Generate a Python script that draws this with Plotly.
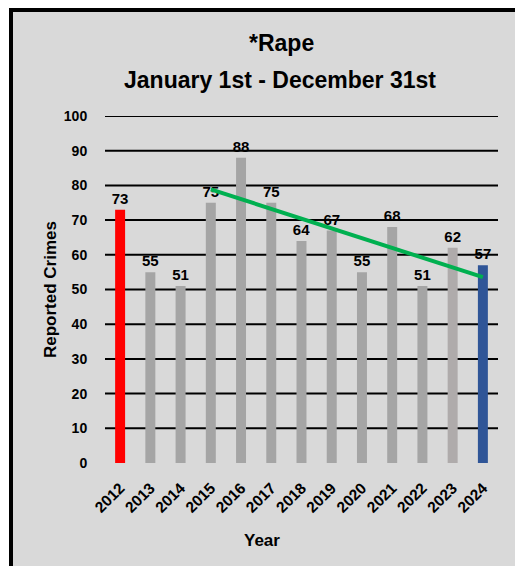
import numpy as np
import plotly.graph_objects as go

# ---- data ----
years = ["2012", "2013", "2014", "2015", "2016", "2017", "2018",
         "2019", "2020", "2021", "2022", "2023", "2024"]
crimes = [73, 55, 51, 75, 88, 75, 64, 67, 55, 68, 51, 62, 57]
bar_colors = ["#FF0000"] + ["#A5A5A5"] * 10 + ["#AFABAB", "#2F5597"]
trend_years = years[3:]
trend_source = crimes[3:]
y_ticks = [0, 10, 20, 30, 40, 50, 60, 70, 80, 90, 100]

title_line1 = "*Rape"
title_line2 = "January 1st - December 31st"
x_title = "Year"
y_title = "Reported Crimes"

# linear trendline (least squares) over 2015-2024
idx = np.arange(len(trend_source))
slope, intercept = np.polyfit(idx, trend_source, 1)
trend_vals = [slope * i + intercept for i in idx]

# ---- layout geometry (screen pixels; body margin removed by post_script) ----
OFF = 0
SW, SH = 515, 566
W, H = SW - OFF, SH - OFF
L, R, T, B = 105, 498, 116, 463   # plot area in screen pixels
FONT = "Liberation Sans, Arial, sans-serif"


def xp(px):
    return (px - L) / (R - L)


def yp(py):
    return (B - py) / (B - T)


fig = go.Figure()
fig.add_trace(go.Bar(
    x=years, y=crimes, marker=dict(color=bar_colors, line=dict(width=0)),
    width=0.33, text=crimes, texttemplate="%{y}", textposition="outside",
    constraintext="none",
    textfont=dict(family=FONT, size=15, color="black", weight="bold"),
    cliponaxis=False, hoverinfo="x+y", showlegend=False,
))
fig.add_trace(go.Scatter(
    x=trend_years, y=trend_vals, mode="lines",
    line=dict(color="#00B050", width=4), showlegend=False, hoverinfo="skip",
))

shapes = [
    dict(type="rect", xref="paper", yref="paper", x0=xp(13), x1=xp(SW + 20),
         y0=yp(12), y1=yp(SH + 20), fillcolor="#D9D9D9", line=dict(width=0),
         layer="below"),
    dict(type="rect", xref="paper", yref="paper", x0=xp(9), x1=xp(SW + 20),
         y0=yp(8), y1=yp(12), fillcolor="black", line=dict(width=0),
         layer="below"),
    dict(type="rect", xref="paper", yref="paper", x0=xp(9), x1=xp(13),
         y0=yp(8), y1=yp(SH + 20), fillcolor="black", line=dict(width=0),
         layer="below"),
]
for v in y_ticks[1:]:
    shapes.append(dict(type="line", xref="paper", yref="y", x0=0, x1=1,
                       y0=v, y1=v, line=dict(color="black", width=2),
                       layer="below"))

annotations = [
    dict(text=title_line1, xref="paper", yref="paper", x=xp(281), y=yp(43),
         showarrow=False, xanchor="center", yanchor="middle",
         font=dict(family=FONT, size=23, color="black", weight="bold")),
    dict(text=title_line2, xref="paper", yref="paper", x=xp(280), y=yp(80),
         showarrow=False, xanchor="center", yanchor="middle",
         font=dict(family=FONT, size=23, color="black", weight="bold")),
    dict(text=x_title, xref="paper", yref="paper", x=xp(262), y=yp(540),
         showarrow=False, xanchor="center", yanchor="middle",
         font=dict(family=FONT, size=17, color="black", weight="bold")),
    dict(text=y_title, xref="paper", yref="paper", x=xp(50), y=yp(290),
         showarrow=False, xanchor="center", yanchor="middle", textangle=-90,
         font=dict(family=FONT, size=17, color="black", weight="bold")),
]

fig.update_layout(
    width=W, height=H, autosize=False,
    margin=dict(l=L - OFF, r=SW - R, t=T - OFF, b=SH - B, pad=0),
    paper_bgcolor="white", plot_bgcolor="rgba(0,0,0,0)",
    shapes=shapes, annotations=annotations, bargap=0.67,
    font=dict(family=FONT, color="black"),
)
fig.update_xaxes(
    type="category", tickangle=-45, showgrid=False, zeroline=False,
    showline=False, ticks="outside", ticklen=9, tickcolor="rgba(0,0,0,0)",
    tickfont=dict(family=FONT, size=15.5, color="black", weight="bold"),
)
fig.update_yaxes(
    range=[0, 100], tickvals=y_ticks, showgrid=False, zeroline=False,
    showline=False, ticks="outside", ticklen=14, tickcolor="rgba(0,0,0,0)",
    tickfont=dict(family=FONT, size=14, color="black", weight="bold"),
)

fig.write_html(
    "out.html",
    config={"displayModeBar": False},
    post_script="document.body.style.margin='0';"
                "document.documentElement.style.overflow='hidden';"
                "document.body.style.overflow='hidden';",
)
